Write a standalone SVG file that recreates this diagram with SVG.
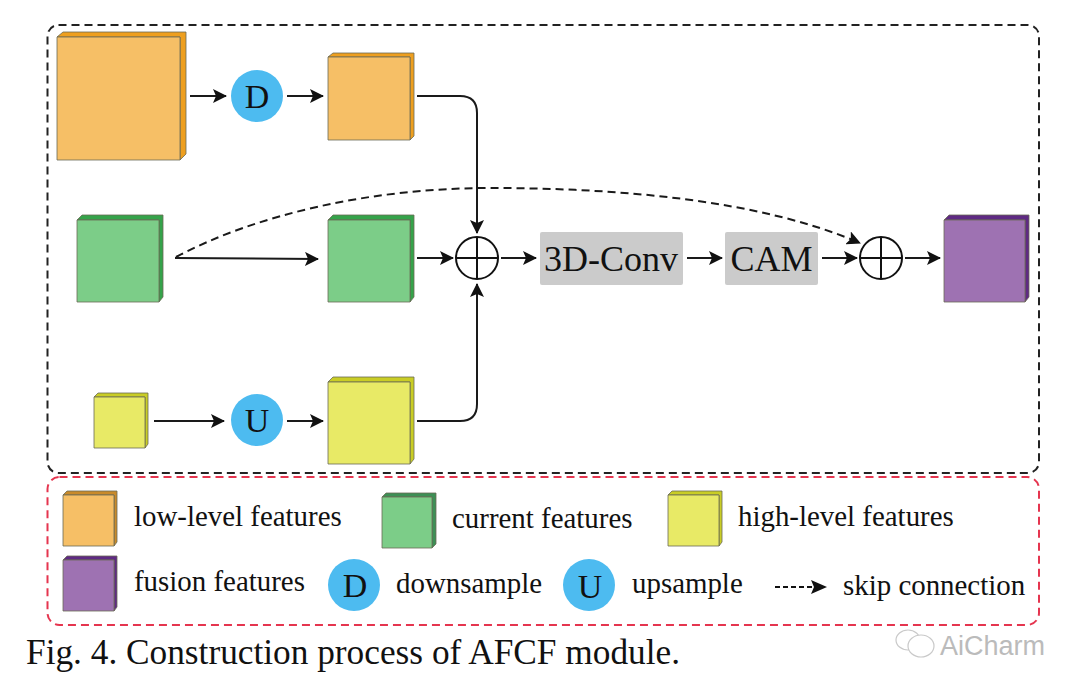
<svg xmlns="http://www.w3.org/2000/svg" width="1080" height="689" viewBox="0 0 1080 689">
<style>
text{font-family:"Liberation Serif","Times New Roman",serif;fill:#111}
.lbl{font-size:28.900px}
.big{font-size:36px}
.ltr{font-size:34px}
.line{fill:none;stroke:#1a1a1a;stroke-width:2}
.dash{fill:none;stroke:#1a1a1a;stroke-width:2;stroke-dasharray:8 5}
.edge{stroke:#6b6b55;stroke-width:.8;stroke-linejoin:round}
.o1{fill:#f6bf66}.o2{fill:#ee9f1f}.o3{fill:#c98a2a}
.g1{fill:#7ccd88}.g2{fill:#35a34a}.g3{fill:#3d8f55}
.y1{fill:#e8ea66}.y2{fill:#c9cd25}
.p1{fill:#9e72b2}.p2{fill:#5f2a83}
.blue{fill:#4dbbf0}
.gray{fill:#cbcbcb}
.op{fill:none;stroke:#111;stroke-width:2}
</style>
<defs>
<marker id="a" viewBox="0 0 14 14" refX="13" refY="7" markerWidth="14" markerHeight="14" markerUnits="userSpaceOnUse" orient="auto"><path d="M0 0L14 7L0 14L3 7Z" fill="#111"/></marker>
</defs>
<rect width="1080" height="689" fill="#fff"/>
<g id="frames">
<rect x="47.500" y="25" width="991.500" height="448" rx="11" fill="none" stroke="#222" stroke-width="2" stroke-dasharray="8 5"/>
<rect x="47.500" y="477" width="991.500" height="148" rx="12" fill="none" stroke="#e5354f" stroke-width="2" stroke-dasharray="8 5"/>
</g>
<g id="connectors">
<path class="line" d="M190 96H226" marker-end="url(#a)"/>
<path class="line" d="M287 96H323" marker-end="url(#a)"/>
<path class="line" d="M417 96H460Q477 96 477 113V233" marker-end="url(#a)"/>
<path class="line" d="M175 258L318 259" marker-end="url(#a)"/>
<path class="line" d="M417 258H453" marker-end="url(#a)"/>
<path class="line" d="M417 421H460Q477 421 477 404V284" marker-end="url(#a)"/>
<path class="line" d="M154 421H224" marker-end="url(#a)"/>
<path class="line" d="M287 421H323" marker-end="url(#a)"/>
<path class="line" d="M501 258H536" marker-end="url(#a)"/>
<path class="line" d="M687 258H722" marker-end="url(#a)"/>
<path class="line" d="M822 258H857" marker-end="url(#a)"/>
<path class="line" d="M905 258H940" marker-end="url(#a)"/>
<path class="dash" d="M176 257C255 215 370 188 490 188C620 188 760 200 860 243" marker-end="url(#a)"/>
</g>
<g id="node-low-large"><path class="o2 edge" d="M57 37L63 32H186V154L180 160V37Z"/><rect class="o1 edge" x="57" y="37" width="123" height="123"/></g>
<g id="node-d"><circle class="blue" cx="257" cy="96" r="26"/><text class="ltr" x="257" y="108" text-anchor="middle">D</text></g>
<g id="node-low-small"><path class="o2 edge" d="M328 57L333 53H414V136L410 140V57Z"/><rect class="o1 edge" x="328" y="57" width="82" height="83"/></g>
<g id="node-current-left"><path class="g2 edge" d="M77 220L82 215H163V297L159 302V220Z"/><rect class="g1 edge" x="77" y="220" width="82" height="82"/></g>
<g id="node-current-mid"><path class="g2 edge" d="M328 220L333 215H414V297L410 302V220Z"/><rect class="g1 edge" x="328" y="220" width="82" height="82"/></g>
<g id="node-high-small"><path class="y2 edge" d="M94 397L98 393H148V444L145 448V397Z"/><rect class="y1 edge" x="94" y="397" width="51" height="51"/></g>
<g id="node-u"><circle class="blue" cx="257" cy="420" r="26"/><text class="ltr" x="257" y="432" text-anchor="middle">U</text></g>
<g id="node-high-large"><path class="y2 edge" d="M328 382L333 377H414V459L410 464V382Z"/><rect class="y1 edge" x="328" y="382" width="82" height="82"/></g>
<g id="node-add1"><circle class="op" cx="477" cy="258" r="21"/><path class="op" d="M456 258H498M477 237V279"/></g>
<g id="node-3dconv"><rect class="gray" x="540" y="232" width="143" height="53" rx="2"/><text class="big" x="611" y="271" text-anchor="middle">3D-Conv</text></g>
<g id="node-cam"><rect class="gray" x="725" y="232" width="93" height="53" rx="2"/><text class="big" x="771.500" y="271" text-anchor="middle">CAM</text></g>
<g id="node-add2"><circle class="op" cx="881" cy="258" r="21"/><path class="op" d="M860 258H902M881 237V279"/></g>
<g id="node-fusion"><path class="p2 edge" d="M944 220L949 215H1029V297L1025 302V220Z"/><rect class="p1 edge" x="944" y="220" width="81" height="82"/></g>
<g id="legend">
<path class="o3 edge" d="M63 495L67 491H117V542L114 546V495Z"/><rect class="o1 edge" x="63" y="495" width="51" height="51"/>
<text class="lbl" x="134" y="526">low-level features</text>
<path class="g3 edge" d="M382 497L386 493H436V544L432 548V497Z"/><rect class="g1 edge" x="382" y="497" width="50" height="51"/>
<text class="lbl" x="452" y="528">current features</text>
<path class="y2 edge" d="M668 495L672 491H722V542L719 546V495Z"/><rect class="y1 edge" x="668" y="495" width="51" height="51"/>
<text class="lbl" x="738" y="526">high-level features</text>
<path class="p2 edge" d="M63 560L67 556H117V607L114 611V560Z"/><rect class="p1 edge" x="63" y="560" width="51" height="51"/>
<text class="lbl" x="134" y="591">fusion features</text>
<circle class="blue" cx="354" cy="585" r="26"/><text class="ltr" x="355" y="597" text-anchor="middle">D</text>
<text class="lbl" x="396" y="593">downsample</text>
<circle class="blue" cx="589" cy="585" r="26"/><text class="ltr" x="590" y="598" text-anchor="middle">U</text>
<text class="lbl" x="632" y="593">upsample</text>
<path d="M775 587H814" fill="none" stroke="#111" stroke-width="1.800" stroke-dasharray="5 3"/><path d="M811 580L827 587L811 594L814 587Z" fill="#111"/>
<text class="lbl" x="843" y="595">skip connection</text>
</g>
<text x="26" y="664" font-size="35.300px">Fig. 4. Construction process of AFCF module.</text>
<g id="watermark" opacity=".9">
<ellipse cx="908" cy="640" rx="12" ry="10" fill="#fff" stroke="#c4c4c4" stroke-width="1.200"/>
<ellipse cx="921" cy="646" rx="13" ry="11" fill="#fff" stroke="#c4c4c4" stroke-width="1.200"/>
<text x="940" y="655" font-size="27px" style="font-family:'Liberation Sans',sans-serif;fill:#b4b4b4">AiCharm</text>
</g>
</svg>
